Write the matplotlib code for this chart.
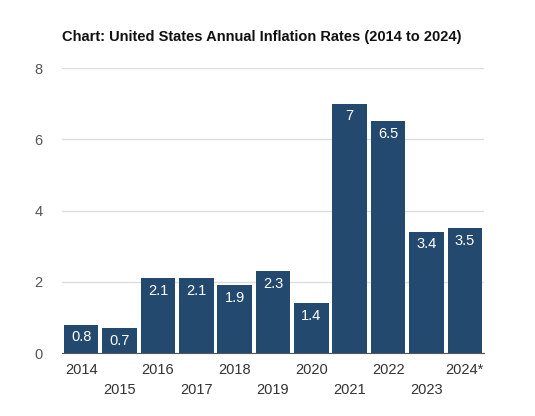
import matplotlib.pyplot as plt
import numpy as np

# datos
years = ["2014", "2015", "2016", "2017", "2018", "2019", "2020", "2021", "2022", "2023", "2024*"]
rates = [0.8, 0.7, 2.1, 2.1, 1.9, 2.3, 1.4, 7, 6.5, 3.4, 3.5]
value_labels = ["0.8", "0.7", "2.1", "2.1", "1.9", "2.3", "1.4", "7", "6.5", "3.4", "3.5"]

plt.rcParams['font.family'] = ['Liberation Sans', 'DejaVu Sans']

fig = plt.figure(figsize=(5.35, 4.16), dpi=100)
ax = fig.add_axes([0.1159, 0.1514, 0.7888, 0.6851])

x = np.arange(len(years))
ax.bar(x, rates, width=0.9, color='#24496f', zorder=3)

for xi, v, lab in zip(x, rates, value_labels):
    ax.annotate(lab, (xi, v), xytext=(0, -4), textcoords='offset points',
                ha='center', va='top', color='white', fontsize=10.5, zorder=4)

ax.set_xlim(-0.5, len(years) - 0.5)
ax.set_ylim(0, 8)
ax.set_yticks([0, 2, 4, 6, 8])
ax.grid(axis='y', color='#dddddd', linewidth=1, zorder=0)
for s in ['top', 'right', 'left']:
    ax.spines[s].set_visible(False)
ax.spines['bottom'].set_color('#555555')
ax.spines['bottom'].set_zorder(5)

ax.set_xticks(x)
ax.set_xticklabels(years)
for i, t in enumerate(ax.get_xticklabels()):
    if i % 2 == 1:
        t.set_y(-0.072)
ax.tick_params(axis='x', length=0, pad=7, labelsize=10.5, labelcolor='#333333')
ax.tick_params(axis='y', length=0, pad=14, labelsize=10.5, labelcolor='#555555')

fig.text(0.1159, 0.911, "Chart: United States Annual Inflation Rates (2014 to 2024)",
         fontsize=10.5, fontweight='bold', color='#111111', va='center', ha='left')

fig.savefig("out.png", dpi=100)
